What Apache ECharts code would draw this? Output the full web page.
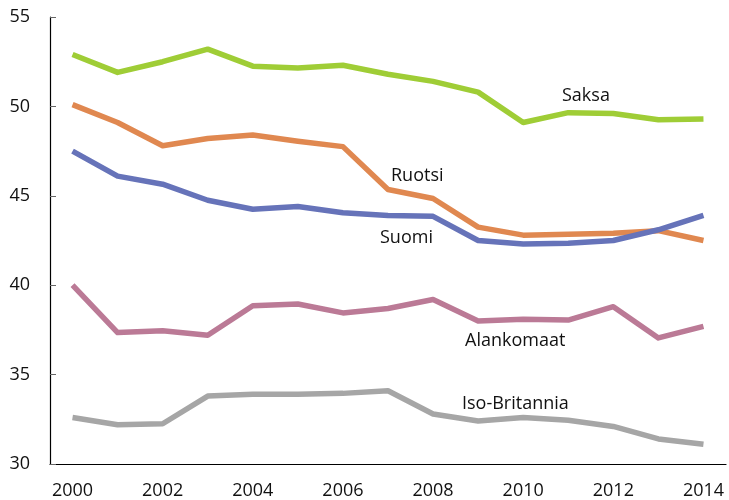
<!DOCTYPE html>
<html>
<head>
<meta charset="utf-8">
<script src="https://cdn.jsdelivr.net/npm/echarts@6/dist/echarts.min.js"></script>
<style>
  html, body { margin: 0; padding: 0; background: #fff; }
  #chart { width: 729px; height: 500px; }
</style>
</head>
<body>
<div id="chart"></div>
<script>
var years = ['2000', '2001', '2002', '2003', '2004', '2005', '2006', '2007',
  '2008', '2009', '2010', '2011', '2012', '2013', '2014'];
var saksa = [52.9, 51.9, 52.5, 53.2, 52.25, 52.15, 52.3, 51.8, 51.4, 50.8, 49.1, 49.65, 49.6, 49.25, 49.3];
var ruotsi = [50.1, 49.1, 47.8, 48.2, 48.4, 48.05, 47.75, 45.35, 44.85, 43.25, 42.8, 42.85, 42.9, 43.05, 42.5];
var suomi = [47.5, 46.1, 45.65, 44.75, 44.25, 44.4, 44.05, 43.9, 43.85, 42.5, 42.3, 42.35, 42.5, 43.1, 43.9];
var alankomaat = [40.0, 37.35, 37.45, 37.2, 38.85, 38.95, 38.45, 38.7, 39.2, 38.0, 38.1, 38.05, 38.8, 37.05, 37.7];
var isoBritannia = [32.6, 32.2, 32.25, 33.8, 33.9, 33.9, 33.95, 34.1, 32.8, 32.4, 32.6, 32.45, 32.1, 31.4, 31.1];
var yTicks = [30, 35, 40, 45, 50, 55];

var font = '"Open Sans", "Noto Sans", sans-serif';

function lineSeries(name, data, color) {
  return {
    name: name,
    type: 'line',
    data: data,
    symbol: 'none',
    lineStyle: { color: color, width: 5.5, join: 'round' },
    itemStyle: { color: color }
  };
}

function label(text, x, y) {
  return {
    type: 'text',
    left: x,
    top: y,
    style: { text: text, fill: '#111', font: '18px ' + font }
  };
}

var option = {
  animation: false,
  backgroundColor: '#fff',
  grid: { left: 50, right: 3, top: 17, bottom: 36, containLabel: false },
  xAxis: {
    type: 'category',
    data: years,
    boundaryGap: true,
    axisLine: { lineStyle: { color: '#000', width: 1.2 } },
    axisTick: { inside: true, length: 6, interval: 0, lineStyle: { color: '#444' } },
    axisLabel: { interval: 1, color: '#111', fontSize: 18, fontFamily: font, margin: 18 },
    splitLine: { show: false }
  },
  yAxis: {
    type: 'value',
    min: yTicks[0],
    max: yTicks[yTicks.length - 1],
    interval: 5,
    axisLine: { show: true, lineStyle: { color: '#000', width: 1.2 } },
    axisTick: { show: true, inside: true, length: 6, lineStyle: { color: '#666' } },
    axisLabel: { color: '#111', fontSize: 18, fontFamily: font, margin: 20 },
    splitLine: { show: false }
  },
  series: [
    lineSeries('Saksa', saksa, '#9fcd36'),
    lineSeries('Ruotsi', ruotsi, '#e08850'),
    lineSeries('Suomi', suomi, '#6673b9'),
    lineSeries('Alankomaat', alankomaat, '#bb7a96'),
    lineSeries('Iso-Britannia', isoBritannia, '#a6a6a6')
  ],
  graphic: [
    label('Saksa', 562, 87),
    label('Ruotsi', 391, 167),
    label('Suomi', 380, 229),
    label('Alankomaat', 465, 332),
    label('Iso-Britannia', 462, 395)
  ]
};

var myChart = echarts.init(document.getElementById('chart'), null, { renderer: 'canvas' });
myChart.setOption(option);
</script>
</body>
</html>
